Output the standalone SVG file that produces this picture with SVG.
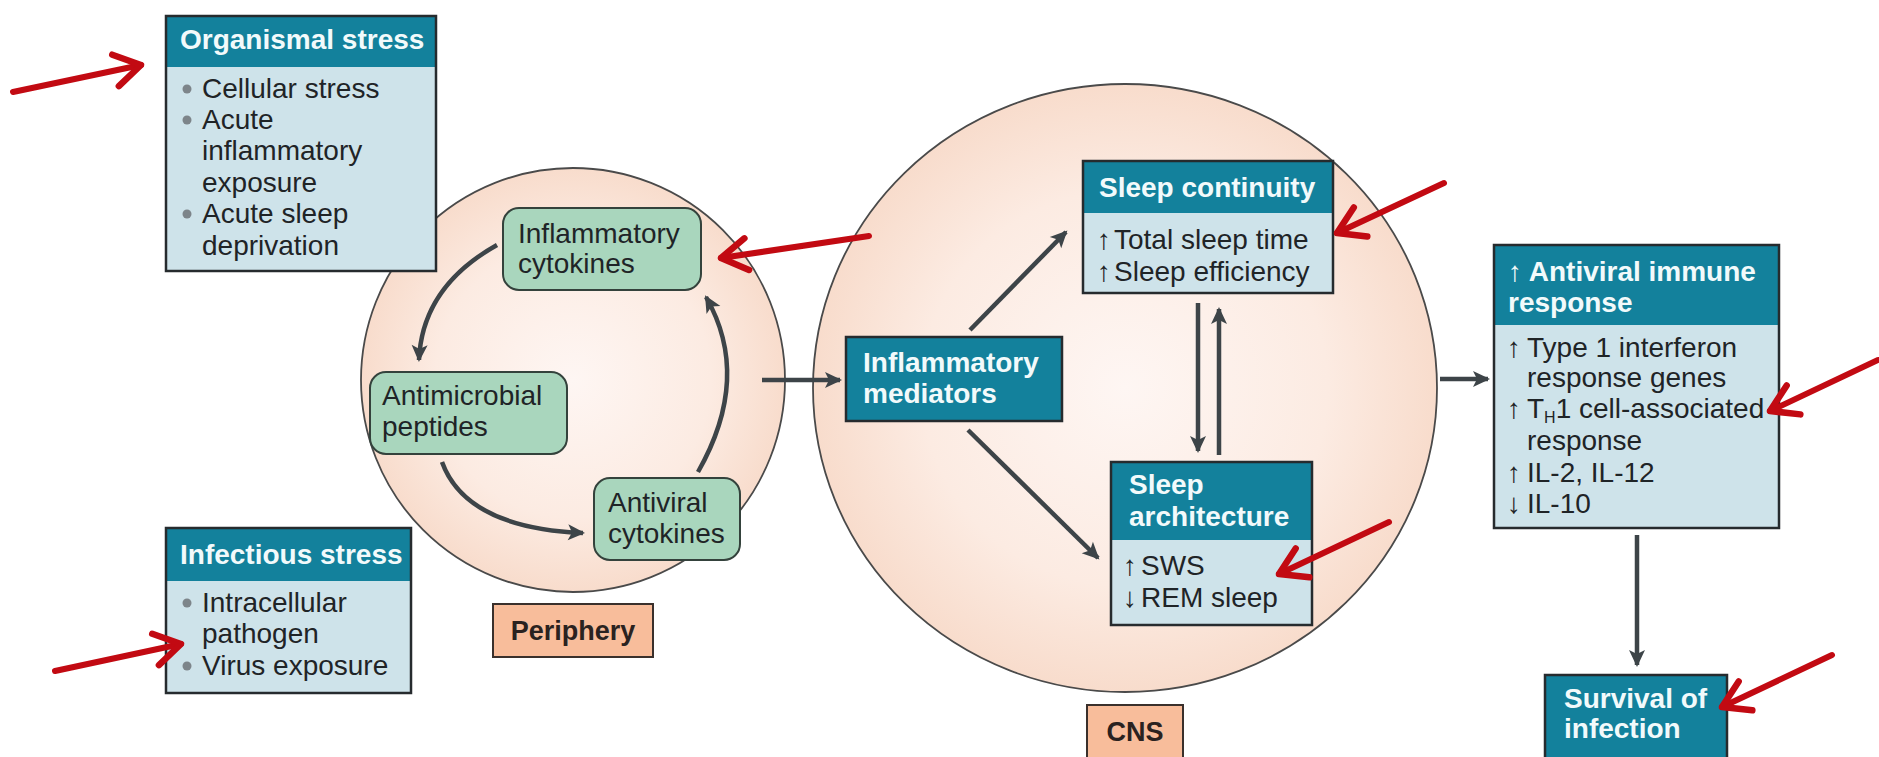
<svg xmlns="http://www.w3.org/2000/svg" width="1879" height="757" viewBox="0 0 1879 757">
<defs>
<radialGradient id="peach" cx="50%" cy="50%" r="50%">
<stop offset="0%" stop-color="#fef6f3"/>
<stop offset="65%" stop-color="#fcebe2"/>
<stop offset="100%" stop-color="#f8dccc"/>
</radialGradient>
<marker id="ah" markerUnits="userSpaceOnUse" markerWidth="20" markerHeight="20" viewBox="-16 -10 20 20" refX="0" refY="0" orient="auto" overflow="visible">
<path d="M-15,-8 L2,0 L-15,8 L-11,0 Z" fill="#3d4448"/>
</marker>
<marker id="rh" markerUnits="userSpaceOnUse" markerWidth="40" markerHeight="40" viewBox="-30 -20 40 40" refX="0" refY="0" orient="auto" overflow="visible">
<path d="M-26,-16 L0,0 L-26,16" fill="none" stroke="#c20a12" stroke-width="6.5" stroke-linecap="round" stroke-linejoin="round"/>
</marker>
<style>
.t{font-family:"Liberation Sans",Arial,sans-serif;font-size:28px;fill:#1f2427}
.b{font-family:"Liberation Sans",Arial,sans-serif;font-size:28px;font-weight:bold;fill:#f2fafb}
.lb{font-family:"Liberation Sans",Arial,sans-serif;font-size:27px;font-weight:bold;fill:#2a2220}
.hdr{fill:#13819c}
.body{fill:#cee3ea}
.frame{fill:none;stroke:#262b2e;stroke-width:2.5}
.green{fill:#a9d6bd;stroke:#34423c;stroke-width:2}
.lab{fill:#f8bd9b;stroke:#3a302c;stroke-width:2}
.circ{fill:url(#peach);stroke:#4a4a4a;stroke-width:1.8}
.c{fill:none;stroke:#3d4448;stroke-width:4.5;marker-end:url(#ah)}
.r{fill:none;stroke:#c20a12;stroke-width:6;stroke-linecap:round;marker-end:url(#rh)}
.dot{fill:#7d858a}
</style>
</defs>
<rect width="1879" height="757" fill="#ffffff"/>

<g id="periphery-circle"><circle class="circ" cx="573" cy="380" r="212"/></g>
<g id="cns-circle"><ellipse class="circ" cx="1125" cy="388" rx="312" ry="304"/></g>

<g id="organismal-stress">
<rect class="body" x="166" y="16" width="270" height="255"/>
<rect class="hdr" x="166" y="16" width="270" height="51"/>
<rect class="frame" x="166" y="16" width="270" height="255"/>
<text class="b" x="180" y="49">Organismal stress</text>
<circle class="dot" cx="187" cy="89" r="4.5"/>
<circle class="dot" cx="187" cy="120" r="4.5"/>
<circle class="dot" cx="187" cy="214" r="4.5"/>
<text class="t"><tspan x="202" y="98">Cellular stress</tspan><tspan x="202" y="129">Acute</tspan><tspan x="202" y="160">inflammatory</tspan><tspan x="202" y="192">exposure</tspan><tspan x="202" y="223">Acute sleep</tspan><tspan x="202" y="255">deprivation</tspan></text>
</g>

<g id="infectious-stress">
<rect class="body" x="166" y="528" width="245" height="165"/>
<rect class="hdr" x="166" y="528" width="245" height="53"/>
<rect class="frame" x="166" y="528" width="245" height="165"/>
<text class="b" x="180" y="564">Infectious stress</text>
<circle class="dot" cx="187" cy="603" r="4.5"/>
<circle class="dot" cx="187" cy="666" r="4.5"/>
<text class="t"><tspan x="202" y="612">Intracellular</tspan><tspan x="202" y="643">pathogen</tspan><tspan x="202" y="675">Virus exposure</tspan></text>
</g>

<g id="inflammatory-cytokines">
<rect class="green" x="503" y="208" width="198" height="82" rx="16"/>
<text class="t"><tspan x="518" y="243">Inflammatory</tspan><tspan x="518" y="273">cytokines</tspan></text>
</g>

<g id="antimicrobial-peptides">
<rect class="green" x="370" y="372" width="197" height="82" rx="16"/>
<text class="t"><tspan x="382" y="405">Antimicrobial</tspan><tspan x="382" y="436">peptides</tspan></text>
</g>

<g id="antiviral-cytokines">
<rect class="green" x="594" y="478" width="146" height="82" rx="16"/>
<text class="t"><tspan x="608" y="512">Antiviral</tspan><tspan x="608" y="543">cytokines</tspan></text>
</g>

<g id="periphery-label">
<rect class="lab" x="493" y="604" width="160" height="53"/>
<text class="lb" x="573" y="640" text-anchor="middle">Periphery</text>
</g>

<g id="cns-label">
<rect class="lab" x="1087" y="705" width="96" height="60"/>
<text class="lb" x="1135" y="741" text-anchor="middle">CNS</text>
</g>

<g id="inflammatory-mediators">
<rect class="hdr" x="846" y="337" width="216" height="84"/>
<rect class="frame" x="846" y="337" width="216" height="84"/>
<text class="b"><tspan x="863" y="372">Inflammatory</tspan><tspan x="863" y="403">mediators</tspan></text>
</g>

<g id="sleep-continuity">
<rect class="body" x="1083" y="161" width="250" height="132"/>
<rect class="hdr" x="1083" y="161" width="250" height="52"/>
<rect class="frame" x="1083" y="161" width="250" height="132"/>
<text class="b" x="1099" y="197">Sleep continuity</text>
<text class="t"><tspan x="1097" y="249">↑</tspan><tspan x="1114" y="249">Total sleep time</tspan><tspan x="1097" y="281">↑</tspan><tspan x="1114" y="281">Sleep efficiency</tspan></text>
</g>

<g id="sleep-architecture">
<rect class="body" x="1111" y="462" width="201" height="163"/>
<rect class="hdr" x="1111" y="462" width="201" height="78"/>
<rect class="frame" x="1111" y="462" width="201" height="163"/>
<text class="b"><tspan x="1129" y="494">Sleep</tspan><tspan x="1129" y="526">architecture</tspan></text>
<text class="t"><tspan x="1123" y="575">↑</tspan><tspan x="1141" y="575">SWS</tspan><tspan x="1123" y="607">↓</tspan><tspan x="1141" y="607">REM sleep</tspan></text>
</g>

<g id="antiviral-immune-response">
<rect class="body" x="1494" y="245" width="285" height="283"/>
<rect class="hdr" x="1494" y="245" width="285" height="80"/>
<rect class="frame" x="1494" y="245" width="285" height="283"/>
<text class="b"><tspan x="1508" y="281">↑ Antiviral immune</tspan><tspan x="1508" y="312">response</tspan></text>
<text class="t"><tspan x="1507" y="357">↑</tspan><tspan x="1527" y="357">Type 1 interferon</tspan><tspan x="1527" y="387">response genes</tspan><tspan x="1507" y="418">↑</tspan><tspan x="1527" y="418">T</tspan><tspan font-size="16" dy="5">H</tspan><tspan dy="-5">1 cell-associated</tspan><tspan x="1527" y="450">response</tspan><tspan x="1507" y="482">↑</tspan><tspan x="1527" y="482">IL-2, IL-12</tspan><tspan x="1507" y="513">↓</tspan><tspan x="1527" y="513">IL-10</tspan></text>
</g>

<g id="survival-of-infection">
<rect class="hdr" x="1545" y="675" width="182" height="90"/>
<rect class="frame" x="1545" y="675" width="182" height="90"/>
<text class="b"><tspan x="1564" y="708">Survival of</tspan><tspan x="1564" y="738">infection</tspan></text>
</g>

<g id="connectors">
<path class="c" d="M497,245 Q422,287 419,360"/>
<path class="c" d="M442,462 Q466,528 583,533"/>
<path class="c" d="M698,472 Q752,377 706,297"/>
<path class="c" d="M762,380 L840,380"/>
<path class="c" d="M970,330 L1066,232"/>
<path class="c" d="M968,430 L1098,558"/>
<path class="c" d="M1198,303 L1198,451"/>
<path class="c" d="M1219,455 L1219,309"/>
<path class="c" d="M1440,379 L1488,379"/>
<path class="c" d="M1637,535 L1637,665"/>
</g>

<g id="annotation-arrows">
<path class="r" d="M13,92 L141,65"/>
<path class="r" d="M869,236 L721,258"/>
<path class="r" d="M1444,183 L1337,233"/>
<path class="r" d="M1389,522 L1279,574"/>
<path class="r" d="M1878,360 L1770,411"/>
<path class="r" d="M1832,655 L1722,707"/>
<path class="r" d="M55,671 L181,644"/>
</g>
</svg>
